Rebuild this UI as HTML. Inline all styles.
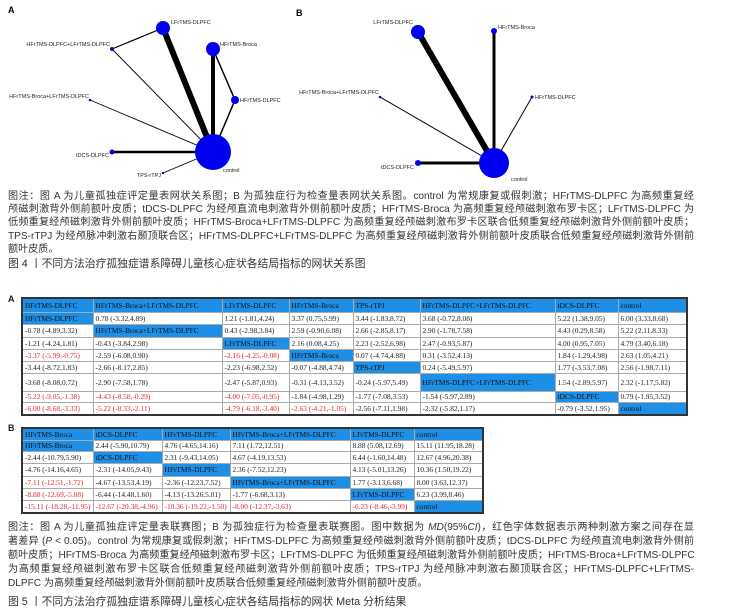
<!DOCTYPE html>
<html><head><meta charset="utf-8"><style>
*{margin:0;padding:0;box-sizing:border-box}
body{width:740px;height:614px;background:#fff;position:relative;overflow:hidden;font-family:"Liberation Sans","Noto Sans CJK SC",sans-serif;color:#222}
svg{position:absolute;left:0;top:0}
.cap{position:absolute;left:8px;width:686px;font-size:10.1px;color:#333}
.cap div{white-space:nowrap;text-align:justify;text-align-last:justify;overflow:hidden}
.cap div.l{text-align:left;text-align-last:left}
.fig{position:absolute;left:8px;font-size:10.8px;color:#333;white-space:nowrap}
table{position:absolute;border-collapse:collapse;table-layout:fixed;font-family:"Liberation Serif",serif;font-size:7.4px;border:2px solid #333}
td{border:1px solid #aaa;padding:0 0 0 2px;white-space:nowrap;overflow:hidden;color:#222}
td.h{background:#1e8fe6;color:#111}
td.r{color:#e02828}
.lab{position:absolute;font-weight:bold;font-size:9px}
</style></head><body>
<svg width="740" height="185" viewBox="0 0 740 185" font-family="Liberation Sans,sans-serif" font-size="5.5">
<text x="8" y="13" font-size="9" font-weight="bold">A</text>
<g stroke="#000" stroke-linecap="round">
<line x1="213" y1="152" x2="163" y2="28" stroke-width="6"/>
<line x1="213" y1="152" x2="213" y2="49" stroke-width="4"/>
<line x1="213" y1="49" x2="235" y2="100" stroke-width="1.5"/>
<line x1="213" y1="152" x2="235" y2="100" stroke-width="1.5"/>
<line x1="163" y1="28" x2="112" y2="49" stroke-width="1.2"/>
<line x1="112" y1="49" x2="213" y2="152" stroke-width="0.9"/>
<line x1="90" y1="100" x2="213" y2="152" stroke-width="0.9"/>
<line x1="112" y1="152" x2="213" y2="152" stroke-width="2.5"/>
<line x1="163" y1="173" x2="213" y2="152" stroke-width="0.9"/>
</g>
<g fill="#0000ee">
<circle cx="163" cy="28" r="7"/><circle cx="213" cy="49" r="7"/><circle cx="235" cy="100" r="4"/>
<circle cx="213" cy="152" r="18"/><circle cx="112" cy="152" r="2.5"/><circle cx="163" cy="173" r="1.2"/>
<circle cx="90" cy="100" r="1.3"/><circle cx="112" cy="49" r="2"/>
</g>
<g fill="#222">
<text x="171" y="24">LFrTMS-DLPFC</text>
<text x="220" y="46">HFrTMS-Broca</text>
<text x="240" y="102">HFrTMS-DLPFC</text>
<text x="110" y="46" text-anchor="end">HFrTMS-DLPFC+LFrTMS-DLPFC</text>
<text x="89" y="98" text-anchor="end">HFrTMS-Broca+LFrTMS-DLPFC</text>
<text x="109" y="157" text-anchor="end">tDCS-DLPFC</text>
<text x="161" y="177" text-anchor="end">TPS-rTPJ</text>
<text x="223" y="172">control</text>
</g>
<text x="296" y="16" font-size="9" font-weight="bold">B</text>
<g stroke="#000" stroke-linecap="round">
<line x1="494" y1="163" x2="418" y2="32" stroke-width="6"/>
<line x1="494" y1="163" x2="494" y2="31" stroke-width="3"/>
<line x1="494" y1="163" x2="532" y2="97" stroke-width="1"/>
<line x1="494" y1="163" x2="380" y2="97" stroke-width="1"/>
<line x1="494" y1="163" x2="418" y2="163" stroke-width="3"/>
</g>
<g fill="#0000ee">
<circle cx="418" cy="32" r="7"/><circle cx="494" cy="31" r="3"/><circle cx="532" cy="97" r="1.5"/>
<circle cx="380" cy="97" r="1.3"/><circle cx="418" cy="163" r="3"/><circle cx="494" cy="163" r="15"/>
</g>
<g fill="#222">
<text x="413" y="24" text-anchor="end">LFrTMS-DLPFC</text>
<text x="498" y="29">HFrTMS-Broca</text>
<text x="535" y="99">HFrTMS-DLPFC</text>
<text x="379" y="94" text-anchor="end">HFrTMS-Broca+LFrTMS-DLPFC</text>
<text x="414" y="169" text-anchor="end">tDCS-DLPFC</text>
<text x="511" y="181">control</text>
</g>
</svg>

<div class="cap" style="top:190px;line-height:13.2px">
<div>图注：图 A 为儿童孤独症评定量表网状关系图；B 为孤独症行为检查量表网状关系图。control 为常规康复或假刺激；HFrTMS-DLPFC 为高频重复经</div>
<div>颅磁刺激背外侧前额叶皮质；tDCS-DLPFC 为经颅直流电刺激背外侧前额叶皮质；HFrTMS-Broca 为高频重复经颅磁刺激布罗卡区；LFrTMS-DLPFC 为</div>
<div>低频重复经颅磁刺激背外侧前额叶皮质；HFrTMS-Broca+LFrTMS-DLPFC 为高频重复经颅磁刺激布罗卡区联合低频重复经颅磁刺激背外侧前额叶皮质；</div>
<div>TPS-rTPJ 为经颅脉冲刺激右颞顶联合区；HFrTMS-DLPFC+LFrTMS-DLPFC 为高频重复经颅磁刺激背外侧前额叶皮质联合低频重复经颅磁刺激背外侧前</div>
<div class="l">额叶皮质。</div>
</div>
<div class="fig" style="top:255px">图 4 丨不同方法治疗孤独症谱系障碍儿童核心症状各结局指标的网状关系图</div>

<div class="lab" style="left:8px;top:294px">A</div>
<table style="left:21px;top:297px;width:665px">
<colgroup><col style="width:71px"><col style="width:129px"><col style="width:67px"><col style="width:64px"><col style="width:67px"><col style="width:135px"><col style="width:63px"><col style="width:69px"></colgroup>
<tr style="height:14px"><td class="h">HFrTMS-DLPFC</td><td class="h">HFrTMS-Broca+LFrTMS-DLPFC</td><td class="h">LFrTMS-DLPFC</td><td class="h">HFrTMS-Broca</td><td class="h">TPS-rTPJ</td><td class="h">HFrTMS-DLPFC+LFrTMS-DLPFC</td><td class="h">tDCS-DLPFC</td><td class="h">control</td></tr>
<tr style="height:12px"><td class="h">HFrTMS-DLPFC</td><td>0.78 (-3.32,4.89)</td><td>1.21 (-1.81,4.24)</td><td>3.37 (0.75,5.99)</td><td>3.44 (-1.83,8.72)</td><td>3.68 (-0.72,8.08)</td><td>5.22 (1.38,9.05)</td><td>6.00 (3.33,8.68)</td></tr>
<tr style="height:13px"><td>-0.78 (-4.89,3.32)</td><td class="h">HFrTMS-Broca+LFrTMS-DLPFC</td><td>0.43 (-2.98,3.84)</td><td>2.59 (-0.90,6.08)</td><td>2.66 (-2.85,8.17)</td><td>2.90 (-1.78,7.58)</td><td>4.43 (0.29,8.58)</td><td>5.22 (2.11,8.33)</td></tr>
<tr style="height:12px"><td>-1.21 (-4.24,1.81)</td><td>-0.43 (-3.84,2.98)</td><td class="h">LFrTMS-DLPFC</td><td>2.16 (0.08,4.25)</td><td>2.23 (-2.52,6.98)</td><td>2.47 (-0.93,5.87)</td><td>4.00 (0.95,7.05)</td><td>4.79 (3.40,6.18)</td></tr>
<tr style="height:12px"><td class="r">-3.37 (-5.99,-0.75)</td><td>-2.59 (-6.08,0.90)</td><td class="r">-2.16 (-4.25,-0.08)</td><td class="h">HFrTMS-Broca</td><td>0.07 (-4.74,4.88)</td><td>0.31 (-3.52,4.13)</td><td>1.84 (-1.29,4.98)</td><td>2.63 (1.05,4.21)</td></tr>
<tr style="height:12px"><td>-3.44 (-8.72,1.83)</td><td>-2.66 (-8.17,2.85)</td><td>-2.23 (-6.98,2.52)</td><td>-0.07 (-4.88,4.74)</td><td class="h">TPS-rTPJ</td><td>0.24 (-5.49,5.97)</td><td>1.77 (-3.53,7.08)</td><td>2.56 (-1.98,7.11)</td></tr>
<tr style="height:18px"><td>-3.68 (-8.08,0.72)</td><td>-2.90 (-7.58,1.78)</td><td>-2.47 (-5.87,0.93)</td><td>-0.31 (-4.13,3.52)</td><td>-0.24 (-5.97,5.49)</td><td class="h">HFrTMS-DLPFC+LFrTMS-DLPFC</td><td>1.54 (-2.89,5.97)</td><td>2.32 (-1.17,5.82)</td></tr>
<tr style="height:11px"><td class="r">-5.22 (-9.05,-1.38)</td><td class="r">-4.43 (-8.58,-0.29)</td><td class="r">-4.00 (-7.05,-0.95)</td><td>-1.84 (-4.98,1.29)</td><td>-1.77 (-7.08,3.53)</td><td>-1.54 (-5.97,2.89)</td><td class="h">tDCS-DLPFC</td><td>0.79 (-1.95,3.52)</td></tr>
<tr style="height:13px"><td class="r">-6.00 (-8.68,-3.33)</td><td class="r">-5.22 (-8.33,-2.11)</td><td class="r">-4.79 (-6.18,-3.40)</td><td class="r">-2.63 (-4.21,-1.05)</td><td>-2.56 (-7.11,1.98)</td><td>-2.32 (-5.82,1.17)</td><td>-0.79 (-3.52,1.95)</td><td class="h">control</td></tr>
</table>

<div class="lab" style="left:8px;top:423px">B</div>
<table style="left:21px;top:427px;width:461px">
<colgroup><col style="width:71px"><col style="width:69px"><col style="width:68px"><col style="width:120px"><col style="width:64px"><col style="width:69px"></colgroup>
<tr style="height:12px"><td class="h">HFrTMS-Broca</td><td class="h">tDCS-DLPFC</td><td class="h">HFrTMS-DLPFC</td><td class="h">HFrTMS-Broca+LFrTMS-DLPFC</td><td class="h">LFrTMS-DLPFC</td><td class="h">control</td></tr>
<tr style="height:11px"><td class="h">HFrTMS-Broca</td><td>2.44 (-5.90,10.79)</td><td>4.76 (-4.65,14.16)</td><td>7.11 (1.72,12.51)</td><td>8.88 (5.08,12.69)</td><td>15.11 (11.95,18.28)</td></tr>
<tr style="height:12px"><td>-2.44 (-10.79,5.90)</td><td class="h">tDCS-DLPFC</td><td>2.31 (-9.43,14.05)</td><td>4.67 (-4.19,13.53)</td><td>6.44 (-1.60,14.48)</td><td>12.67 (4.96,20.38)</td></tr>
<tr style="height:13px"><td>-4.76 (-14.16,4.65)</td><td>-2.31 (-14.05,9.43)</td><td class="h">HFrTMS-DLPFC</td><td>2.36 (-7.52,12.23)</td><td>4.13 (-5.01,13.26)</td><td>10.36 (1.50,19.22)</td></tr>
<tr style="height:12px"><td class="r">-7.11 (-12.51,-1.72)</td><td>-4.67 (-13.53,4.19)</td><td>-2.36 (-12.23,7.52)</td><td class="h">HFrTMS-Broca+LFrTMS-DLPFC</td><td>1.77 (-3.13,6.68)</td><td>8.00 (3.63,12.37)</td></tr>
<tr style="height:12px"><td class="r">-8.88 (-12.69,-5.08)</td><td>-6.44 (-14.48,1.60)</td><td>-4.13 (-13.26,5.01)</td><td>-1.77 (-6.68,3.13)</td><td class="h">LFrTMS-DLPFC</td><td>6.23 (3.99,8.46)</td></tr>
<tr style="height:13px"><td class="r">-15.11 (-18.28,-11.95)</td><td class="r">-12.67 (-20.38,-4.96)</td><td class="r">-10.36 (-19.22,-1.50)</td><td class="r">-8.00 (-12.37,-3.63)</td><td class="r">-6.23 (-8.46,-3.99)</td><td class="h">control</td></tr>
</table>

<div class="cap" style="top:521px;line-height:14px">
<div>图注：图 A 为儿童孤独症评定量表联赛图；B 为孤独症行为检查量表联赛图。图中数据为 <i>MD</i>(95%<i>CI</i>)，红色字体数据表示两种刺激方案之间存在显</div>
<div>著差异 (<i>P</i> &lt; 0.05)。control 为常规康复或假刺激；HFrTMS-DLPFC 为高频重复经颅磁刺激背外侧前额叶皮质；tDCS-DLPFC 为经颅直流电刺激背外侧前</div>
<div>额叶皮质；HFrTMS-Broca 为高频重复经颅磁刺激布罗卡区；LFrTMS-DLPFC 为低频重复经颅磁刺激背外侧前额叶皮质；HFrTMS-Broca+LFrTMS-DLPFC</div>
<div>为高频重复经颅磁刺激布罗卡区联合低频重复经颅磁刺激背外侧前额叶皮质；TPS-rTPJ 为经颅脉冲刺激右颞顶联合区；HFrTMS-DLPFC+LFrTMS-</div>
<div class="l">DLPFC 为高频重复经颅磁刺激背外侧前额叶皮质联合低频重复经颅磁刺激背外侧前额叶皮质。</div>
</div>
<div class="fig" style="top:593px">图 5 丨不同方法治疗孤独症谱系障碍儿童核心症状各结局指标的网状 Meta 分析结果</div>
</body></html>
